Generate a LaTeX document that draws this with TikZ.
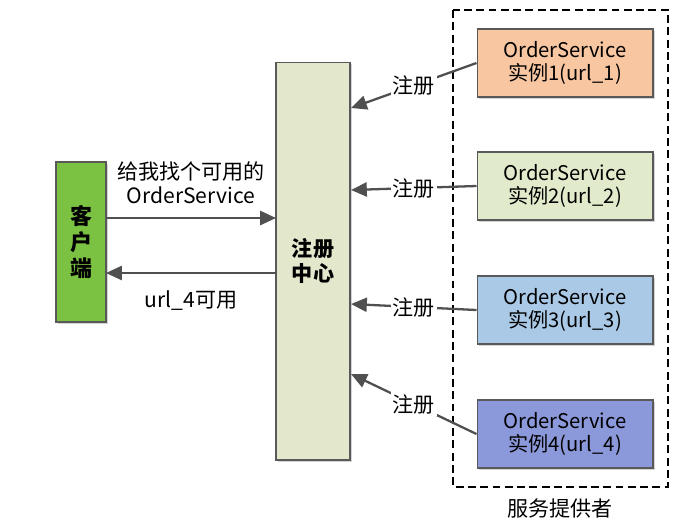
\documentclass[tikz,border=0pt]{standalone}
\usepackage{fontspec}
\setmainfont{Noto Sans CJK SC}
\usetikzlibrary{arrows.meta,shadows}
\definecolor{clientgreen}{HTML}{7CC242}
\definecolor{regbg}{HTML}{E3E8CD}
\definecolor{svcone}{HTML}{F8C7A2}
\definecolor{svctwo}{HTML}{E1EACB}
\definecolor{svcthree}{HTML}{A9C9E6}
\definecolor{svcfour}{HTML}{8B98D9}
\definecolor{linegray}{HTML}{505050}
\begin{document}
\begin{tikzpicture}[x=0.02cm, y=-0.02cm, font=\fontsize{11.5}{13.5}\selectfont,
box/.style={rectangle,draw=gray!70!black,line width=0.6pt,drop shadow={shadow xshift=1.2pt,shadow yshift=-1.2pt,opacity=0.35}},
svc node/.style={box,minimum width=3.52cm,minimum height=1.36cm,align=center,inner sep=0pt},
link/.style={draw=linegray,line width=1.3pt,-{Triangle[length=9pt,width=8pt]}},
tag/.style={fill=white,inner sep=1pt,font=\fontsize{12}{14}\selectfont}]
\useasboundingbox (0,0) rectangle (688,522);
\draw[dash pattern=on 4.5pt off 2.5pt,line width=0.8pt] (453,10) rectangle (668,487);
\node[anchor=north,font=\fontsize{12}{14}\selectfont] (provider) at (560,493) {服务提供者};
\begin{scope}
\node[box,fill=clientgreen,minimum width=1cm,minimum height=3.2cm,align=center,inner sep=0pt,font=\fontsize{12.5}{15}\selectfont\bfseries] (client) at (81,242) {客\\户\\端};
\node[box,fill=regbg,minimum width=1.48cm,minimum height=7.96cm,align=center,inner sep=0pt,font=\fontsize{12}{14}\selectfont\bfseries] (reg) at (313,261) {注册\\中心};
\node[svc node,fill=svcone] (s1) at (565,63) {OrderService\\实例1(url\_1)};
\node[svc node,fill=svctwo] (s2) at (565,186) {OrderService\\实例2(url\_2)};
\node[svc node,fill=svcthree] (s3) at (565,310) {OrderService\\实例3(url\_3)};
\node[svc node,fill=svcfour] (s4) at (565,434) {OrderService\\实例4(url\_4)};
%\node[svc node] (s) at (,) {};
\end{scope}
\begin{scope}
\coordinate (c1) at (106,218);
\coordinate (r1) at (276,218);
\coordinate (c2) at (106,273);
\coordinate (r2) at (276,273);
\draw[link] (c1) -- node[above,align=center,yshift=4pt,font=\fontsize{12}{14}\selectfont]{给我找个可用的\\OrderService} (r1);
\draw[link] (r2) -- node[below,yshift=-6pt,font=\fontsize{12}{14}\selectfont]{url\_4可用} (c2);
\coordinate (e1) at (351,108);
\coordinate (e2) at (351,190);
\coordinate (e3) at (351,304);
\coordinate (e4) at (351,374);
\draw[link] (s1.west) -- node[tag]{注册} (e1);
\draw[link] (s2.west) -- node[tag]{注册} (e2);
\draw[link] (s3.west) -- node[tag]{注册} (e3);
\draw[link] (s4.west) -- node[tag]{注册} (e4);
%\draw[link] (s) -- node[tag]{} (e);
\end{scope}
\end{tikzpicture}
\end{document}
